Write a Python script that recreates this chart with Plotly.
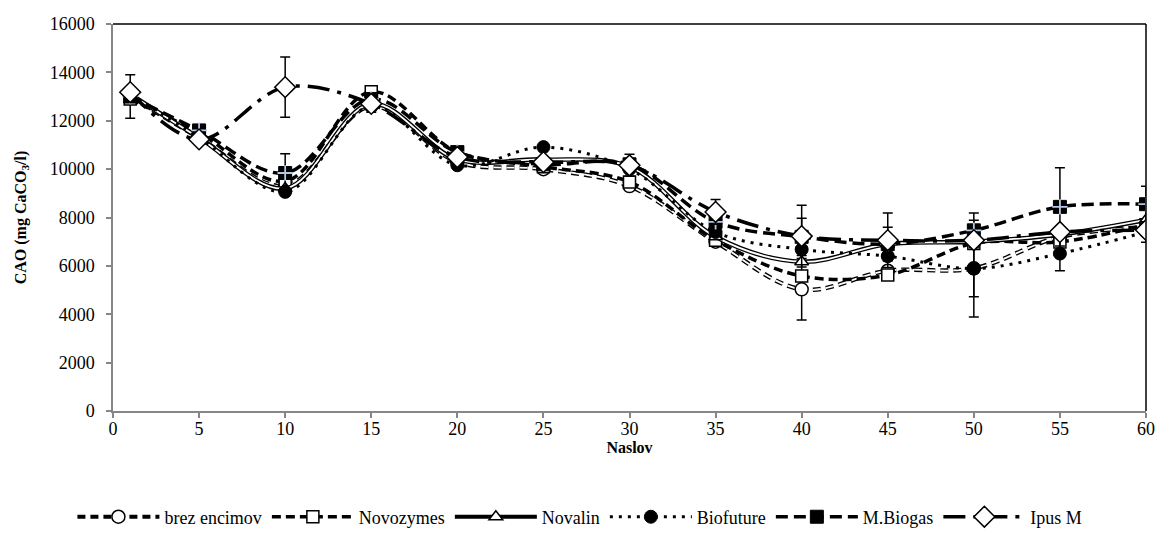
import plotly.graph_objects as go

# ---- data ----
naslov = [1, 5, 10, 15, 20, 25, 30, 35, 40, 45, 50, 55, 60]

brez_encimov = [13000, 11300, 9300, 12600, 10300, 10000, 9300, 7000, 5030, 5800, 5900, 7200, 7600]
novozymes = [12900, 11500, 9500, 13200, 10700, 10100, 9470, 7060, 5580, 5620, 6930, 6990, 7700]
novalin = [13100, 11300, 9200, 12700, 10400, 10400, 10100, 7200, 6170, 6900, 7000, 7300, 7900]
biofuture = [13100, 11300, 9060, 12600, 10160, 10910, 10000, 7400, 6680, 6400, 5890, 6510, 7400]
m_biogas = [13000, 11600, 9840, 12900, 10700, 10200, 10200, 7820, 7200, 6900, 7470, 8440, 8550]
ipus_m = [13180, 11230, 13390, 12700, 10500, 10290, 10160, 8230, 7230, 7060, 7060, 7400, 7480]

err_brez = [900, 0, 0, 0, 0, 0, 0, 0, 1270, 0, 1180, 0, 0]
err_novozymes = [0, 0, 0, 0, 0, 0, 0, 0, 0, 0, 0, 0, 0]
err_novalin = [0, 0, 0, 0, 0, 0, 0, 0, 0, 0, 0, 0, 0]
err_biofuture = [0, 0, 0, 0, 0, 0, 0, 0, 0, 0, 2000, 715, 420]
err_m_biogas = [0, 0, 800, 0, 0, 0, 0, 0, 770, 700, 720, 1620, 740]
err_ipus = [0, 0, 1250, 350, 0, 0, 450, 510, 1280, 1130, 0, 0, 0]

y_ticks = [0, 2000, 4000, 6000, 8000, 10000, 12000, 14000, 16000]
x_ticks = [0, 5, 10, 15, 20, 25, 30, 35, 40, 45, 50, 55, 60]

FONT = "Times New Roman, Liberation Serif, serif"
BLACK = "black"

fig = go.Figure()


def err(arr):
    return dict(type="data", array=arr, visible=True, color=BLACK, thickness=1.5, width=5)


def legend_entry(name, line, marker):
    fig.add_trace(go.Scatter(x=[None], y=[None], mode="lines+markers", name=name,
                             line=line, marker=marker, showlegend=True))


# brez encimov: hollow dashed line, open circle
m_brez = dict(symbol="circle", size=13, color="white", line=dict(color=BLACK, width=1.5))
fig.add_trace(go.Scatter(x=naslov, y=brez_encimov, mode="lines", showlegend=False,
                         line=dict(color=BLACK, width=4.5, dash="8px,5px", shape="spline", smoothing=1),
                         error_y=err(err_brez)))
fig.add_trace(go.Scatter(x=naslov, y=brez_encimov, mode="lines+markers", showlegend=False,
                         line=dict(color="white", width=1.8, dash="8px,5px", shape="spline", smoothing=1),
                         marker=m_brez))
legend_entry("brez encimov", dict(color=BLACK, width=4, dash="8px,5px"), m_brez)

# Novozymes: thick dashed, open square
m_novo = dict(symbol="square", size=12, color="white", line=dict(color=BLACK, width=1.5))
fig.add_trace(go.Scatter(x=naslov, y=novozymes, mode="lines+markers", name="Novozymes",
                         line=dict(color=BLACK, width=3.5, dash="9px,5px", shape="spline", smoothing=1),
                         marker=m_novo, error_y=err(err_novozymes)))

# Novalin: double solid line, open triangle
m_noval = dict(symbol="triangle-up", size=12, color="white", line=dict(color=BLACK, width=1.5))
fig.add_trace(go.Scatter(x=naslov, y=novalin, mode="lines", showlegend=False,
                         line=dict(color=BLACK, width=4.5, shape="spline", smoothing=1),
                         error_y=err(err_novalin)))
fig.add_trace(go.Scatter(x=naslov, y=novalin, mode="lines+markers", showlegend=False,
                         line=dict(color="white", width=1.8, shape="spline", smoothing=1),
                         marker=m_noval))
legend_entry("Novalin", dict(color=BLACK, width=4), m_noval)

# Biofuture: dotted line, filled circle
m_bio = dict(symbol="circle", size=13, color=BLACK, line=dict(color=BLACK, width=1))
fig.add_trace(go.Scatter(x=naslov, y=biofuture, mode="lines+markers", name="Biofuture",
                         line=dict(color=BLACK, width=3, dash="3px,6px", shape="spline", smoothing=1),
                         marker=m_bio, error_y=err(err_biofuture)))

# M.Biogas: long dashed, black cross marker with light-blue inner cross
m_mb = dict(symbol="square", size=13, color=BLACK, line=dict(color=BLACK, width=1))
fig.add_trace(go.Scatter(x=naslov, y=m_biogas, mode="lines+markers", name="M.Biogas",
                         line=dict(color=BLACK, width=3.5, dash="12px,6px", shape="spline", smoothing=1),
                         marker=m_mb, error_y=err(err_m_biogas)))
fig.add_trace(go.Scatter(x=naslov, y=m_biogas, mode="markers", showlegend=False,
                         marker=dict(symbol="cross-thin", size=11, line=dict(color="#b4c8e6", width=1.8))))

# Ipus M: long dash - dot, open diamond
m_ipus = dict(symbol="diamond", size=16, color="white", line=dict(color=BLACK, width=1.5))
fig.add_trace(go.Scatter(x=naslov, y=ipus_m, mode="lines+markers", name="Ipus M",
                         line=dict(color=BLACK, width=3.5, dash="22px,8px,4px,8px", shape="spline", smoothing=1),
                         marker=m_ipus, error_y=err(err_ipus)))

order = ["brez encimov", "Novozymes", "Novalin", "Biofuture", "M.Biogas", "Ipus M"]
for tr in fig.data:
    if tr.name in order and tr.showlegend is not False:
        tr.legendrank = order.index(tr.name) + 1

fig.update_layout(
    width=1157, height=546,
    margin=dict(l=113, r=11, t=24, b=135, autoexpand=False),
    paper_bgcolor="white", plot_bgcolor="white",
    font=dict(family=FONT, size=18, color=BLACK),
    showlegend=True,
    legend=dict(orientation="h", x=0.452, xanchor="center", y=-0.274, yanchor="middle",
                font=dict(family=FONT, size=18, color=BLACK), itemwidth=82,
                traceorder="normal", tracegroupgap=0),
    xaxis=dict(range=[0, 60], tickvals=x_ticks, ticktext=[str(v) for v in x_ticks],
               showgrid=False, zeroline=False, showline=True, linecolor="#868686", linewidth=1.5,
               ticks="outside", ticklen=5, tickcolor="#868686", tickwidth=1.5, automargin=False,
               ticklabelstandoff=-4,
               tickfont=dict(family=FONT, size=18, color=BLACK),
               title=dict(text="<b>Naslov</b>", font=dict(family=FONT, size=16, color=BLACK), standoff=0)),
    yaxis=dict(range=[0, 16000], tickvals=y_ticks, ticktext=[str(v) for v in y_ticks],
               showgrid=False, zeroline=False, showline=True, linecolor="#868686", linewidth=1.5,
               ticks="outside", ticklen=5, tickcolor="#868686", tickwidth=1.5, automargin=False,
               ticklabelstandoff=8,
               tickfont=dict(family=FONT, size=18, color=BLACK),
               title=dict(text="<b>CAO (mg CaCO<sub>3</sub>/l)</b>", font=dict(family=FONT, size=16, color=BLACK),
                          standoff=19)),
    shapes=[
        dict(type="line", xref="paper", yref="paper", x0=0, x1=1, y0=1, y1=1,
             line=dict(color=BLACK, width=1.5)),
        dict(type="line", xref="paper", yref="paper", x0=1, x1=1, y0=0, y1=1,
             line=dict(color=BLACK, width=1.5)),
    ],
)

fig.write_html("out.html", config={"displayModeBar": False},
               post_script="document.body.style.margin='0';")
